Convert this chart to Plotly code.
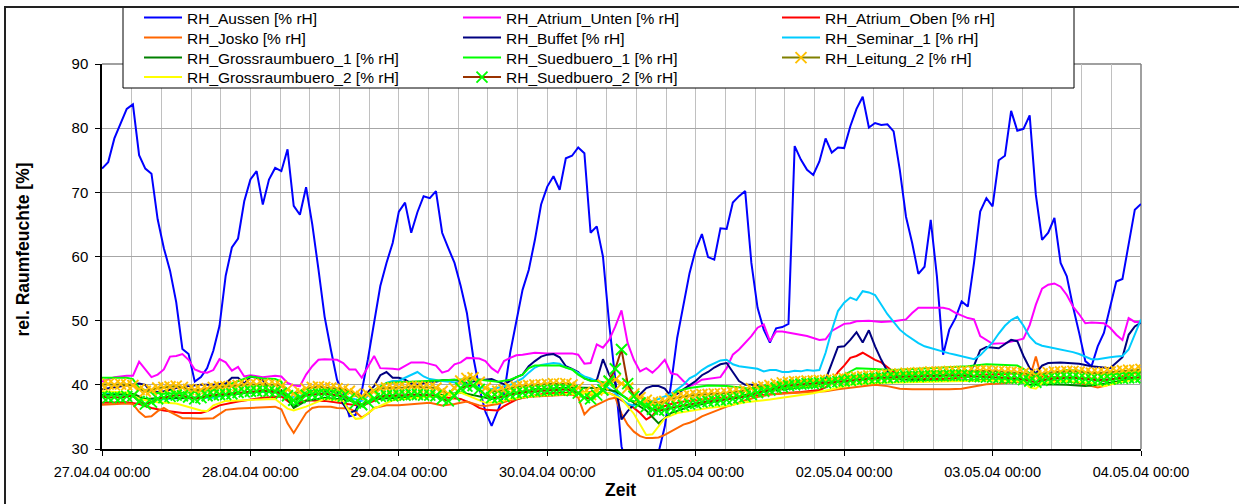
import pandas as pd
import plotly.graph_objects as go

START = pd.Timestamp("2004-04-27 00:00")
END = pd.Timestamp("2004-05-04 00:00")
TICK_LABELS_FMT = "%d.%m.%y %H:%M"

HOURS = list(range(0, 169))

# ---- hourly series -------------------------------------------------------
rh_aussen = [
    73.7, 74.7, 78.4, 80.7, 83.0, 83.7, 75.8, 73.7, 72.9, 65.8, 61.3, 57.8, 52.9, 45.6, 44.8, 40.5,
    41.2, 42.6, 45.3, 49.2, 57.0, 61.4, 62.8, 68.6, 72.0, 73.3, 68.1, 72.0, 73.8, 73.3, 76.7, 67.9,
    66.5, 70.8, 65.0, 58.0, 50.6, 45.5, 40.8, 38.5, 35.1, 35.3, 39.0, 44.0, 49.5, 55.4, 59.0, 62.1,
    67.0, 68.4, 63.7, 66.9, 69.4, 69.1, 70.2, 63.7, 61.3, 59.0, 55.4, 51.2, 44.5, 39.5, 35.8, 33.6,
    36.0, 38.5, 45.0, 50.0, 54.8, 57.9, 62.6, 68.1, 70.9, 72.5, 70.4, 75.3, 75.7, 77.0, 76.1, 63.7,
    64.7, 60.0, 49.6, 40.8, 30.4, 27.0, 24.5, 23.0, 23.5, 26.0, 29.5, 33.5, 40.0, 47.3, 52.2, 57.4,
    61.1, 63.5, 59.9, 59.5, 64.4, 64.3, 68.4, 69.4, 70.2, 59.0, 52.0, 48.6, 46.6, 48.8, 49.0, 49.5,
    77.2, 75.1, 73.5, 72.7, 74.8, 78.4, 76.2, 77.0, 76.9, 80.3, 83.0, 84.9, 80.1, 80.8, 80.5, 80.6,
    79.5, 73.5, 66.2, 62.1, 57.3, 58.4, 65.7, 56.9, 44.7, 48.6, 50.4, 53.0, 52.2, 59.0, 67.0, 69.1,
    67.8, 75.0, 75.7, 82.7, 79.6, 79.9, 82.0, 69.6, 62.6, 63.7, 66.0, 59.0, 56.9, 52.2, 48.1, 43.7,
    42.9, 46.0, 48.1, 52.2, 56.1, 56.5, 61.6, 67.3, 68.2,
]

rh_leitung_2 = [
    40.0, 40.1, 40.0, 40.1, 40.0, 39.9, 39.3, 39.0, 39.2, 39.5, 39.6, 39.7, 39.8, 39.6, 39.3,
    39.2, 39.2, 39.4, 39.6, 39.7, 39.7, 39.8, 39.9, 40.0, 40.1, 40.0, 40.1, 40.0, 40.0, 39.8, 39.3,
    38.6, 38.9, 39.4, 39.6, 39.7, 39.6, 39.5, 39.4, 39.3, 39.0, 38.6, 38.2, 38.5,
    39.0, 39.4, 39.5, 39.5, 39.6, 39.6, 39.7, 39.7, 39.6, 39.6, 39.5, 39.0, 38.6, 39.5,
    40.6, 41.0, 41.1, 40.4, 39.5, 39.0, 39.0, 39.2, 39.5,
    39.7, 39.8, 39.9, 40.0, 40.0, 40.1, 40.2, 40.1, 40.2, 40.0, 39.6, 38.8, 38.5, 39.2,
    40.0, 40.5, 40.8, 40.2, 39.5, 38.6, 38.0, 37.6, 37.3, 37.2, 37.4,
    37.8, 38.0, 38.2, 38.3, 38.4, 38.5, 38.5, 38.6, 38.6, 38.7, 38.8, 38.9, 39.1,
    39.4, 39.6, 39.7, 39.9, 40.1, 40.3, 40.4, 40.5, 40.5, 40.6, 40.6, 40.7, 40.7, 40.8,
    40.9, 41.0, 41.1, 41.2, 41.3, 41.4, 41.4, 41.5,
    41.6, 41.6, 41.7, 41.8, 41.8, 41.9, 41.9, 42.0, 42.0, 42.0, 42.1, 42.1, 42.1, 42.0,
    42.1, 42.2, 42.2, 42.1, 42.1, 42.0, 42.0, 41.9, 41.8, 41.6,
    41.4, 41.7, 41.9, 42.0, 42.0, 42.1, 42.1, 42.0, 41.9, 41.8,
    41.8, 41.9, 42.0, 42.1, 42.2, 42.3, 42.3, 42.4,
]

rh_suedbuero_2 = [
    38.2, 38.0, 38.1, 38.0, 38.2, 38.3, 37.4, 37.0, 37.3, 37.8, 38.0, 38.2, 38.4, 38.3, 38.1,
    37.8, 38.0, 38.3, 38.4, 38.5, 38.5, 38.6, 38.8, 38.9, 39.0, 39.0, 39.1, 39.0, 38.9, 38.7, 38.3,
    37.6, 38.0, 38.4, 38.5, 38.6, 38.6, 38.5, 38.4, 38.2, 37.8, 37.2, 36.9, 37.3,
    37.9, 38.2, 38.3, 38.3, 38.4, 38.4, 38.5, 38.5, 38.4, 38.4, 38.3, 37.8, 37.5, 38.3,
    39.5, 39.8, 39.9, 39.3, 38.4, 38.0, 38.0, 38.2, 38.5,
    38.7, 38.8, 38.9, 39.0, 39.1, 39.1, 39.2, 39.2, 39.3, 39.1, 38.7, 38.0, 37.8, 38.4,
    39.2, 40.6, 42.5, 45.5, 40.2, 38.2, 37.2, 36.6, 36.2, 36.0, 36.1,
    36.4, 36.6, 36.8, 37.0, 37.1, 37.3, 37.4, 37.5, 37.6, 37.7, 37.8, 38.0, 38.2,
    38.5, 38.8, 39.0, 39.2, 39.5, 39.7, 39.9, 40.0, 40.1, 40.2, 40.2, 40.3, 40.3, 40.4,
    40.5, 40.6, 40.7, 40.8, 40.9, 41.0, 41.0, 41.1,
    41.1, 41.2, 41.2, 41.3, 41.3, 41.3, 41.4, 41.4, 41.4, 41.4, 41.5, 41.5, 41.5, 41.4,
    41.3, 41.3, 41.2, 41.2, 41.1, 41.1, 41.0, 41.0, 40.8, 40.6,
    40.4, 40.7, 40.9, 41.0, 41.0, 41.1, 41.1, 41.0, 40.9, 40.8,
    40.7, 40.8, 40.9, 41.0, 41.0, 41.1, 41.1, 41.2,
]

# ---- series read at their visible vertices (hour offsets, values) --------
atrium_unten_h = [0, 2, 4, 5, 6, 7, 8, 9, 10, 11, 12, 13, 14, 15, 16, 17, 18, 19, 20, 21, 22, 23, 24, 26, 28,
                  29, 30, 31, 32, 33, 34, 35, 36, 38, 39, 40, 41, 42, 43, 44, 45, 46, 47, 48, 49, 50, 52, 53,
                  54, 55, 56, 57, 58, 59, 60, 61, 62, 63, 64, 65, 66, 67, 68, 70, 72, 74, 76, 77, 78, 79, 80,
                  81, 82, 83, 84, 85, 86, 87, 88, 89, 90, 91, 92, 93, 94, 95, 96, 97, 98, 100, 101, 102, 103,
                  104, 105, 106, 107, 108, 109, 110, 111, 112, 114, 116, 117, 118, 119, 120, 121, 122, 124,
                  126, 128, 130, 131, 132, 134, 136, 137, 138, 140, 141, 142, 144, 146, 148, 149, 150, 151,
                  152, 153, 154, 155, 156, 157, 158, 159, 160, 162, 163, 164, 165, 166, 167, 168]
atrium_unten_v = [40.5, 41.2, 41.4, 41.4, 43.6, 42.4, 41.2, 41.6, 42.4, 44.4, 44.5, 44.8, 43.9, 42.4, 42.0,
                  41.9, 42.3, 44.0, 43.5, 42.2, 42.8, 41.3, 41.5, 41.2, 41.4, 41.3, 40.3, 39.9, 39.8, 41.6,
                  42.9, 43.9, 44.0, 43.9, 43.4, 42.4, 42.4, 41.1, 42.8, 44.5, 42.6, 42.6, 42.5, 42.4, 42.9,
                  43.5, 43.5, 43.3, 43.0, 41.9, 42.2, 43.2, 43.5, 44.2, 44.2, 44.1, 43.7, 42.6, 41.9, 43.7,
                  44.2, 44.6, 44.7, 45.0, 44.9, 44.9, 44.9, 44.7, 43.3, 43.4, 46.3, 45.8, 47.0, 49.1, 51.6,
                  46.5, 43.9, 42.1, 42.6, 41.9, 42.8, 43.9, 41.8, 41.6, 40.6, 39.8, 40.2, 40.8, 40.9, 41.2,
                  42.6, 44.7, 45.5, 46.5, 47.6, 48.9, 49.4, 46.8, 48.3, 48.3, 48.1, 48.0, 47.6, 47.0, 47.1,
                  48.4, 48.9, 49.5, 49.6, 49.9, 50.0, 49.8, 49.9, 50.2, 51.2, 52.0, 52.0, 52.0, 51.8, 51.2,
                  50.4, 50.2, 47.6, 46.4, 46.5, 46.9, 47.2, 49.3, 52.5, 55.0, 55.6, 55.8, 55.3, 54.0, 52.2,
                  51.0, 49.6, 49.7, 49.6, 48.9, 47.8, 47.0, 50.4, 49.8, 49.8]

atrium_oben_h = [0, 4, 6, 8, 10, 13, 16, 17, 19, 22, 26, 29, 31, 33, 36, 38, 40, 42, 44, 46, 48, 54, 56, 58,
                 60, 61, 62, 64, 65, 67, 69, 72, 77, 80, 82, 83, 84, 86, 87, 88, 89, 90, 92, 94, 97, 100,
                 104, 107, 110, 113, 116, 117, 118, 119, 120, 121, 122, 123, 124, 125, 126, 127, 128, 130,
                 132, 136, 140, 142, 144, 148, 150, 152, 156, 160, 162, 164, 166, 168]
atrium_oben_v = [37.2, 37.3, 37.0, 36.4, 36.0, 35.6, 35.6, 35.9, 36.8, 37.4, 38.0, 38.2, 36.8, 37.6, 37.5,
                 37.2, 37.0, 36.7, 37.5, 38.2, 38.2, 38.2, 38.0, 37.8, 37.0, 36.4, 36.1, 36.0, 36.7, 37.7,
                 38.2, 38.7, 38.8, 38.9, 38.7, 38.3, 37.6, 36.4, 35.6, 34.6, 35.2, 36.4, 37.0, 37.4, 37.7,
                 38.0, 38.2, 38.5, 38.7, 38.9, 39.2, 39.6, 40.5, 42.0, 43.0, 44.2, 44.5, 45.0, 44.4, 43.9,
                 43.5, 42.8, 42.0, 41.2, 40.9, 40.9, 41.2, 41.6, 41.6, 41.8, 41.4, 41.3, 41.2, 41.0, 40.6,
                 41.0, 41.7, 42.0]

josko_h = [0, 4, 5, 6, 7, 8, 9, 10, 11, 13, 14, 16, 18, 19, 20, 22, 24, 26, 28, 29, 30, 31, 32, 33, 34, 35,
           37, 38, 40, 41, 42, 43, 44, 46, 48, 50, 53, 55, 57, 59, 61, 62, 64, 66, 68, 70, 72, 74, 76, 77,
           78, 79, 80, 81, 82, 83, 84, 85, 86, 87, 88, 89, 90, 91, 92, 93, 94, 95, 96, 97, 98, 99, 100, 101,
           102, 103, 104, 106, 108, 111, 114, 117, 119, 121, 123, 125, 127, 129, 131, 133, 135, 137, 139,
           141, 143, 145, 147, 149, 150, 151, 152, 154, 156, 158, 160, 161, 162, 164, 166, 168]
josko_v = [36.9, 37.1, 37.0, 35.8, 35.0, 35.1, 35.9, 36.4, 35.8, 34.8, 34.8, 34.7, 34.8, 35.5, 36.1, 36.3,
           36.4, 36.5, 36.6, 36.2, 34.0, 32.5, 34.1, 35.6, 36.4, 36.6, 36.6, 36.4, 36.3, 35.8, 34.9, 35.5,
           36.4, 36.8, 36.8, 37.0, 37.2, 36.8, 37.0, 37.4, 36.8, 36.7, 37.0, 37.6, 38.0, 38.2, 38.3, 38.5,
           38.5, 38.0, 35.4, 36.4, 36.9, 37.4, 37.8, 38.0, 35.5, 33.8, 32.7, 32.0, 31.7, 31.7, 31.8, 32.2,
           32.7, 33.3, 33.8, 34.1, 34.5, 35.1, 35.5, 35.9, 36.2, 36.6, 36.9, 37.3, 37.6, 38.1, 38.5, 38.7,
           38.8, 39.0, 39.3, 39.5, 39.8, 40.0, 39.8, 39.4, 39.3, 39.3, 39.2, 39.3, 39.4, 39.7, 40.1, 40.2,
           40.3, 40.5, 41.0, 44.4, 40.8, 40.7, 40.5, 40.3, 39.8, 39.6, 39.8, 40.3, 41.5, 42.3]

buffet_h = [0, 5, 6, 7, 8, 10, 12, 14, 16, 18, 20, 21, 22, 23, 24, 25, 26, 27, 29, 30, 31, 32, 33, 34, 37,
            38, 39, 40, 41, 42, 44, 45, 46, 47, 48, 49, 50, 51, 52, 53, 54, 55, 57, 59, 60, 61, 62, 63, 64,
            65, 66, 67, 68, 69, 70, 71, 72, 73, 74, 75, 76, 77, 78, 79, 80, 81, 82, 83, 84, 85, 86, 87, 88,
            89, 90, 91, 92, 93, 94, 95, 96, 97, 98, 99, 100, 101, 102, 103, 104, 105, 107, 110, 113, 116,
            117, 118, 119, 120, 121, 122, 123, 124, 125, 126, 127, 128, 130, 134, 138, 140, 141, 142, 143,
            145, 147, 148, 149, 150, 151, 152, 153, 155, 158, 160, 163, 165, 166, 167, 168]
buffet_v = [39.3, 40.1, 40.2, 40.0, 38.8, 39.0, 39.5, 39.8, 40.0, 40.0, 40.2, 41.1, 41.1, 40.2, 41.3, 41.1,
            40.8, 38.9, 38.9, 38.5, 36.5, 37.5, 38.8, 39.0, 39.0, 38.8, 37.0, 35.6, 36.0, 38.0, 39.8, 41.5,
            42.0, 41.1, 41.1, 40.8, 40.2, 40.0, 40.3, 40.5, 40.5, 40.7, 40.8, 40.3, 40.5, 40.8, 40.8, 40.9,
            40.5, 40.1, 40.6, 41.2, 41.6, 42.9, 43.7, 44.4, 44.7, 44.8, 44.3, 42.9, 42.5, 42.0, 41.0, 40.7,
            40.7, 44.0, 41.6, 40.2, 34.6, 35.9, 36.9, 38.5, 39.5, 39.8, 39.8, 39.4, 38.2, 38.6, 39.3, 40.0,
            40.6, 41.5, 42.0, 42.7, 43.2, 43.4, 42.0, 40.6, 40.0, 40.0, 39.8, 39.7, 39.8, 39.9, 40.8, 43.5,
            45.9, 46.0, 47.0, 48.2, 46.6, 48.5, 46.0, 43.9, 42.1, 41.5, 41.3, 41.5, 41.6, 41.6, 43.0, 45.4,
            45.9, 45.7, 47.0, 46.8, 44.5, 42.6, 41.8, 43.0, 43.4, 43.5, 43.3, 42.9, 42.6, 44.3, 47.8, 49.1,
            49.7]

seminar_1_h = [0, 3, 5, 7, 10, 14, 18, 21, 24, 28, 30, 32, 36, 40, 42, 44, 45, 46, 47, 48, 49, 50, 51, 52,
               53, 55, 58, 60, 63, 66, 68, 69, 70, 71, 72, 73, 74, 75, 76, 77, 78, 79, 80, 81, 82, 83, 84,
               85, 86, 88, 90, 92, 94, 95, 96, 97, 98, 99, 100, 101, 102, 103, 104, 105, 106, 107, 108,
               109, 110, 111, 112, 113, 114, 115, 116, 117, 118, 119, 120, 121, 122, 123, 124, 125, 126,
               127, 128, 129, 130, 131, 132, 133, 134, 135, 136, 137, 138, 139, 140, 141, 142, 143, 144,
               145, 146, 147, 148, 149, 150, 151, 152, 153, 154, 155, 156, 157, 158, 159, 160, 161, 162,
               163, 164, 165, 166, 167, 168]
seminar_1_v = [38.8, 38.5, 38.2, 37.6, 37.8, 38.0, 38.0, 38.6, 38.8, 39.0, 38.0, 38.3, 38.6, 38.0, 37.5,
               39.0, 39.3, 40.3, 40.6, 40.6, 41.1, 41.6, 42.0, 41.3, 40.9, 40.6, 40.3, 39.8, 39.3, 40.0,
               41.0, 41.9, 42.7, 43.1, 43.3, 43.4, 43.3, 42.7, 42.4, 41.8, 41.3, 41.0, 40.6, 40.1, 39.4,
               38.7, 37.8, 37.0, 36.8, 37.2, 37.8, 38.6, 40.0, 41.0, 41.5, 42.3, 42.9, 43.4, 43.8, 43.9,
               43.2, 42.9, 42.8, 42.7, 42.5, 42.1, 42.3, 42.3, 42.0, 42.0, 42.2, 42.1, 42.3, 42.2, 42.3,
               45.0, 48.5, 51.5, 52.8, 53.6, 53.2, 54.6, 54.4, 54.0, 52.5, 51.0, 49.8, 48.6, 47.8, 47.1,
               46.5, 46.0, 45.7, 45.5, 45.2, 44.9, 44.7, 44.5, 44.2, 44.0, 44.6, 45.6, 46.6, 48.0, 49.2,
               50.1, 50.6, 49.2, 47.5, 46.5, 46.1, 45.9, 45.7, 45.5, 45.4, 45.1, 44.8, 44.4, 44.0, 44.0,
               44.2, 44.3, 44.4, 44.5, 45.5, 48.0, 50.2]

grossraum_1_h = [0, 5, 7, 10, 14, 18, 22, 26, 29, 31, 33, 36, 40, 42, 44, 48, 54, 58, 60, 63, 66, 70, 76, 80,
                 83, 85, 88, 90, 92, 95, 100, 105, 110, 116, 118, 121, 124, 128, 135, 140, 145, 148, 150,
                 152, 156, 159, 161, 164, 168]
grossraum_1_v = [38.4, 38.6, 37.8, 38.0, 37.9, 38.2, 38.6, 39.0, 39.2, 36.4, 37.5, 38.0, 37.6, 36.8, 37.8,
                 38.0, 38.3, 38.8, 38.4, 37.8, 38.6, 39.3, 39.6, 39.5, 39.0, 37.8, 36.0, 34.0, 35.6, 36.6,
                 37.6, 38.6, 39.3, 39.8, 40.5, 41.3, 41.3, 40.9, 40.6, 40.7, 40.8, 40.7, 40.0, 40.1, 40.0,
                 39.8, 40.0, 40.5, 41.2]

suedbuero_1_h = [0, 4, 5, 6, 8, 10, 14, 18, 21, 23, 24, 26, 28, 29, 30, 31, 32, 33, 36, 40, 42, 44, 46, 48,
                 50, 52, 56, 60, 64, 66, 68, 69, 70, 72, 74, 76, 77, 78, 79, 80, 82, 84, 85, 87, 89, 90, 91,
                 93, 95, 98, 101, 104, 108, 112, 116, 118, 120, 122, 124, 128, 132, 136, 140, 143, 146, 148,
                 149, 150, 152, 154, 156, 158, 160, 163, 165, 168]
suedbuero_1_v = [41.1, 41.1, 40.9, 39.5, 38.8, 38.6, 38.8, 39.2, 40.2, 41.0, 41.3, 41.0, 40.9, 40.5, 38.0,
                 36.8, 37.5, 38.8, 39.2, 38.8, 37.8, 39.2, 40.3, 40.4, 40.5, 40.6, 40.8, 40.9, 40.5, 40.8,
                 41.6, 42.6, 43.0, 43.0, 43.0, 42.4, 41.6, 41.0, 40.6, 40.6, 40.2, 38.5, 37.7, 37.2, 36.9,
                 36.6, 37.3, 39.0, 39.5, 39.9, 39.8, 39.5, 39.4, 39.6, 39.8, 40.5, 41.5, 42.6, 42.5, 42.3,
                 42.5, 42.7, 42.9, 43.2, 43.1, 43.0, 42.5, 41.8, 41.7, 41.9, 42.3, 42.2, 41.8, 41.6, 41.8,
                 42.2]

grossraum_2_h = [0, 4, 6, 9, 12, 14, 16, 17, 18, 20, 24, 28, 30, 31, 33, 36, 39, 40, 41, 42, 44, 47, 50, 55,
                 58, 60, 62, 64, 66, 70, 76, 80, 82, 84, 86, 88, 89, 90, 91, 93, 95, 98, 101, 104, 108, 111,
                 115, 118, 121, 125, 130, 135, 140, 145, 149, 150, 151, 152, 156, 160, 162, 164, 168]
grossraum_2_v = [39.0, 38.8, 37.8, 37.3, 37.1, 36.5, 36.0, 35.9, 36.8, 37.5, 37.6, 37.8, 36.3, 36.0, 36.6,
                 37.8, 37.5, 35.8, 34.7, 34.8, 36.3, 37.6, 37.9, 38.3, 38.8, 38.0, 37.2, 37.3, 37.8, 38.3,
                 38.6, 38.8, 38.7, 37.8, 35.5, 32.2, 32.3, 33.5, 34.8, 35.6, 35.9, 36.4, 36.7, 37.3, 37.7,
                 38.1, 38.7, 39.3, 40.0, 40.3, 40.4, 40.5, 40.7, 40.7, 40.5, 39.6, 39.4, 40.3, 40.6, 40.3,
                 39.8, 40.3, 41.0]

Y_TICKS = [30, 40, 50, 60, 70, 80, 90]


def to_time(hours):
    return START + pd.to_timedelta(hours, unit="h")


FONT = "Liberation Sans, Arial, sans-serif"

# name, hours, values, line colour, marker colour, legend row
series = [
    ("RH_Aussen [% rH]", HOURS, rh_aussen, "#0000FF", None, "legend"),
    ("RH_Atrium_Unten [% rH]", atrium_unten_h, atrium_unten_v, "#FF00FF", None, "legend"),
    ("RH_Atrium_Oben [% rH]", atrium_oben_h, atrium_oben_v, "#FF0000", None, "legend"),
    ("RH_Josko [% rH]", josko_h, josko_v, "#FF6600", None, "legend2"),
    ("RH_Buffet [% rH]", buffet_h, buffet_v, "#000080", None, "legend2"),
    ("RH_Seminar_1 [% rH]", seminar_1_h, seminar_1_v, "#00CCFF", None, "legend2"),
    ("RH_Grossraumbuero_1 [% rH]", grossraum_1_h, grossraum_1_v, "#008000", None, "legend3"),
    ("RH_Suedbuero_1 [% rH]", suedbuero_1_h, suedbuero_1_v, "#00FF00", None, "legend3"),
    ("RH_Leitung_2 [% rH]", HOURS, rh_leitung_2, "#808000", "#FFC000", "legend3"),
    ("RH_Grossraumbuero_2 [% rH]", grossraum_2_h, grossraum_2_v, "#FFFF00", None, "legend4"),
    ("RH_Suedbuero_2 [% rH]", HOURS, rh_suedbuero_2, "#993300", "#00FF00", "legend4"),
]

fig = go.Figure()
for name, hrs, vals, color, mcolor, leg in series:
    if mcolor:
        kw = dict(mode="lines+markers",
                  marker=dict(symbol="x-thin", size=11, line=dict(color=mcolor, width=1.9), color=mcolor))
    else:
        kw = dict(mode="lines")
    fig.add_trace(go.Scatter(x=to_time(hrs), y=vals, name=name, legend=leg,
                             line=dict(color=color, width=2), **kw))

L, R, T, B = 102, 98, 64, 55
W, H = 1239, 504
PW, PH = W - L - R, H - T - B


def px_x(p):
    return (p - L) / PW


def px_y(p):
    return (H - B - p) / PH


def legend_row(center_px):
    return dict(orientation="h", x=px_x(139), y=px_y(center_px), xanchor="left", yanchor="middle",
                bgcolor="rgba(0,0,0,0)", borderwidth=0, itemwidth=38,
                entrywidth=266, entrywidthmode="pixels", traceorder="normal",
                font=dict(family=FONT, size=15.5, color="#000000"), tracegroupgap=0)


fig.update_layout(
    width=W, height=H,
    margin=dict(l=L, r=R, t=T, b=B, autoexpand=False),
    paper_bgcolor="white", plot_bgcolor="white",
    font=dict(family=FONT, size=15, color="#000000"),
    showlegend=True,
    legend=legend_row(18),
    legend2=legend_row(38),
    legend3=legend_row(58),
    legend4=legend_row(77.5),
    xaxis=dict(type="date", range=[START, END], dtick=86400000, tick0=START,
               tickformat=TICK_LABELS_FMT, showgrid=True, gridcolor="#C0C0C0", gridwidth=1,
               minor=dict(dtick=17280000, tick0=START, showgrid=True, gridcolor="#C0C0C0", gridwidth=1),
               showline=True, linecolor="#000000", linewidth=1.5, ticks="outside", ticklen=5,
               tickcolor="#000000", tickfont=dict(size=14.5), zeroline=False, ticklabelstandoff=4),
    yaxis=dict(range=[30, 90], tickvals=Y_TICKS, showgrid=True, gridcolor="#A6A6A6", gridwidth=1.3,
               showline=True, linecolor="#000000", linewidth=1.5, ticks="outside", ticklen=5,
               tickcolor="#000000", tickfont=dict(size=15), zeroline=False, ticklabelstandoff=4),
    shapes=[
        dict(type="line", xref="paper", yref="paper", x0=0, x1=1, y0=1, y1=1,
             line=dict(color="#808080", width=1.5), layer="below"),
        dict(type="line", xref="paper", yref="paper", x0=1, x1=1, y0=0, y1=1,
             line=dict(color="#808080", width=1.5), layer="below"),
        dict(type="rect", xref="paper", yref="paper", x0=px_x(123), x1=px_x(1074),
             y0=px_y(88), y1=px_y(7), fillcolor="white", line=dict(color="#000000", width=1),
             layer="above"),
        dict(type="rect", xref="paper", yref="paper", x0=px_x(5), x1=px_x(1300),
             y0=px_y(540), y1=px_y(7), fillcolor="rgba(0,0,0,0)", line=dict(color="#222222", width=2),
             layer="above"),
    ],
    annotations=[
        dict(text="<b>rel. Raumfeuchte [%]</b>", xref="paper", yref="paper", x=px_x(22.5), y=px_y(250),
             textangle=-90, showarrow=False, xanchor="center", yanchor="middle",
             font=dict(family=FONT, size=17.5, color="#000000")),
        dict(text="<b>Zeit</b>", xref="paper", yref="paper", x=px_x(620), y=px_y(490),
             showarrow=False, xanchor="center", yanchor="middle",
             font=dict(family=FONT, size=17.5, color="#000000")),
    ],
)

fig.write_html("out.html")
